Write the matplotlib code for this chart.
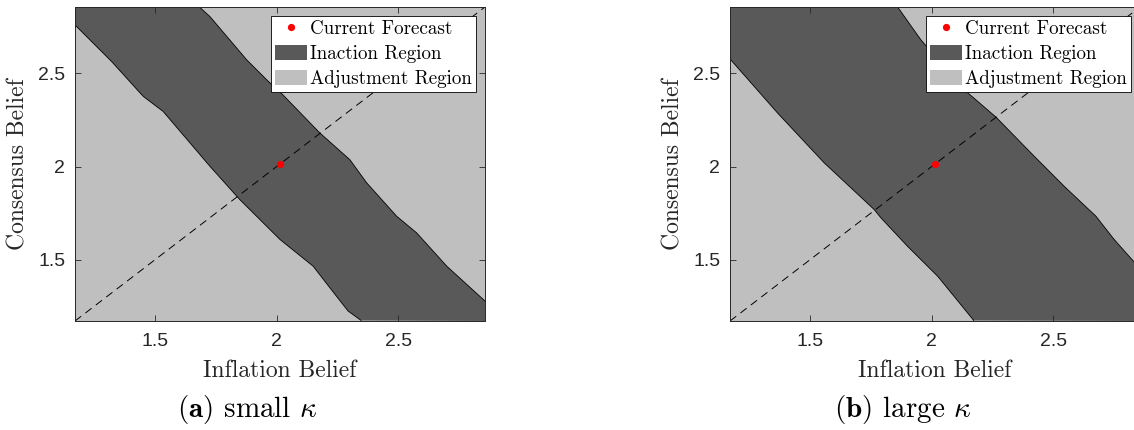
import numpy as np
import matplotlib
matplotlib.use('Agg')
import matplotlib.pyplot as plt

matplotlib.rcParams.update({'mathtext.fontset': 'cm',
                            'axes.unicode_minus': False})

# belief grid shown in both panels, centred on the current forecast
forecast = 2.014
lim = (1.172, 2.856)
ticks = [1.5, 2, 2.5]
tick_labels = ['1.5', '2', '2.5']

# small kappa: edges of the inaction band (x = inflation, y = consensus)
small_upper_x = [1.682, 1.726, 1.877, 1.959, 2.025, 2.178, 2.301, 2.370, 2.493, 2.575, 2.699, 2.856]
small_upper_y = [2.857, 2.805, 2.573, 2.466, 2.386, 2.180, 2.037, 1.913, 1.734, 1.645, 1.466, 1.279]
small_lower_x = [1.171, 1.322, 1.452, 1.534, 1.726, 1.849, 2.014, 2.150, 2.256, 2.294, 2.347]
small_lower_y = [2.761, 2.564, 2.377, 2.296, 2.002, 1.823, 1.609, 1.466, 1.288, 1.225, 1.175]

# large kappa
large_upper_x = [1.860, 1.956, 2.134, 2.264, 2.422, 2.545, 2.675, 2.750, 2.835, 2.860]
large_upper_y = [2.857, 2.680, 2.412, 2.266, 2.055, 1.894, 1.734, 1.609, 1.484, 1.450]
large_lower_x = [1.175, 1.367, 1.559, 1.764, 1.792, 1.901, 2.025, 2.173]
large_lower_y = [2.573, 2.288, 2.020, 1.770, 1.725, 1.573, 1.412, 1.175]

captions = [r'$\mathbf{(a)}$ small $\kappa$', r'$\mathbf{(b)}$ large $\kappa$']

dark = '#595959'
light = '#bfbfbf'
axcol = '#262626'
tex = 'cmr10'

fig = plt.figure(figsize=(11.34, 4.30), dpi=100)
W, H = 1134.0, 430.0
ax1 = fig.add_axes([75 / W, (H - 321) / H, 410 / W, 314 / H])
ax2 = fig.add_axes([730 / W, (H - 321) / H, 410 / W, 314 / H])

panels = [(ax1, small_upper_x, small_upper_y, small_lower_x, small_lower_y, 247),
          (ax2, large_upper_x, large_upper_y, large_lower_x, large_lower_y, 903)]

for i, (ax, ux, uy, lx, ly, cap_x) in enumerate(panels):
    lo, hi = lim
    # adjustment region covers the whole grid, band drawn on top
    adj = ax.fill([lo, hi, hi, lo], [lo, lo, hi, hi], color=light, lw=0)[0]
    bx = list(ux) + [hi] + list(lx[::-1]) + [lo]
    by = list(uy) + [lo] + list(ly[::-1]) + [hi]
    band = ax.fill(bx, by, color=dark, lw=0)[0]
    ax.plot(ux, uy, color='k', lw=0.6)
    ax.plot(lx, ly, color='k', lw=0.6)
    ax.plot([lo, hi], [lo, hi], color='k', lw=0.7, dashes=(8.0, 5.5))
    dot, = ax.plot([forecast], [forecast], 'o', color='red', ms=5.2, mec='none')

    ax.set_xlim(lim)
    ax.set_ylim(lim)
    ax.set_xticks(ticks)
    ax.set_yticks(ticks)
    ax.set_xticklabels(tick_labels)
    ax.set_yticklabels(tick_labels)
    ax.tick_params(direction='in', length=4, width=0.6, color=axcol, labelcolor=axcol,
                   top=True, right=True, labelsize=14, pad=7)
    ax.tick_params(axis='x', pad=9)
    for lab in ax.get_xticklabels() + ax.get_yticklabels():
        lab.set_fontfamily('Liberation Sans')
    for s in ax.spines.values():
        s.set_color(axcol)
        s.set_linewidth(0.7)

    ax.set_xlabel('Inflation Belief', fontfamily=tex, fontsize=17, color=axcol)
    ax.set_ylabel('Consensus Belief', fontfamily=tex, fontsize=17, color=axcol)
    ax.xaxis.set_label_coords(0.5, -0.158)
    ax.xaxis.label.set_verticalalignment('center')
    ax.yaxis.set_label_coords(-0.139, 0.5)
    ax.yaxis.label.set_verticalalignment('center')

    leg = ax.legend([dot, band, adj], ['Current Forecast', 'Inaction Region', 'Adjustment Region'],
                    loc='upper right', bbox_to_anchor=(0.978, 0.9713), borderaxespad=0,
                    prop={'family': tex, 'size': 13.7}, fancybox=False, framealpha=1,
                    edgecolor='k', handlelength=1.68, handleheight=0.84,
                    handletextpad=0.16, borderpad=0.22, labelspacing=0.36, numpoints=1)
    leg.get_frame().set_linewidth(0.6)

    fig.text(cap_x / W, (H - 410) / H, captions[i], fontfamily=tex, fontsize=21,
             ha='center', va='center')

plt.savefig('out.png', dpi=100)
